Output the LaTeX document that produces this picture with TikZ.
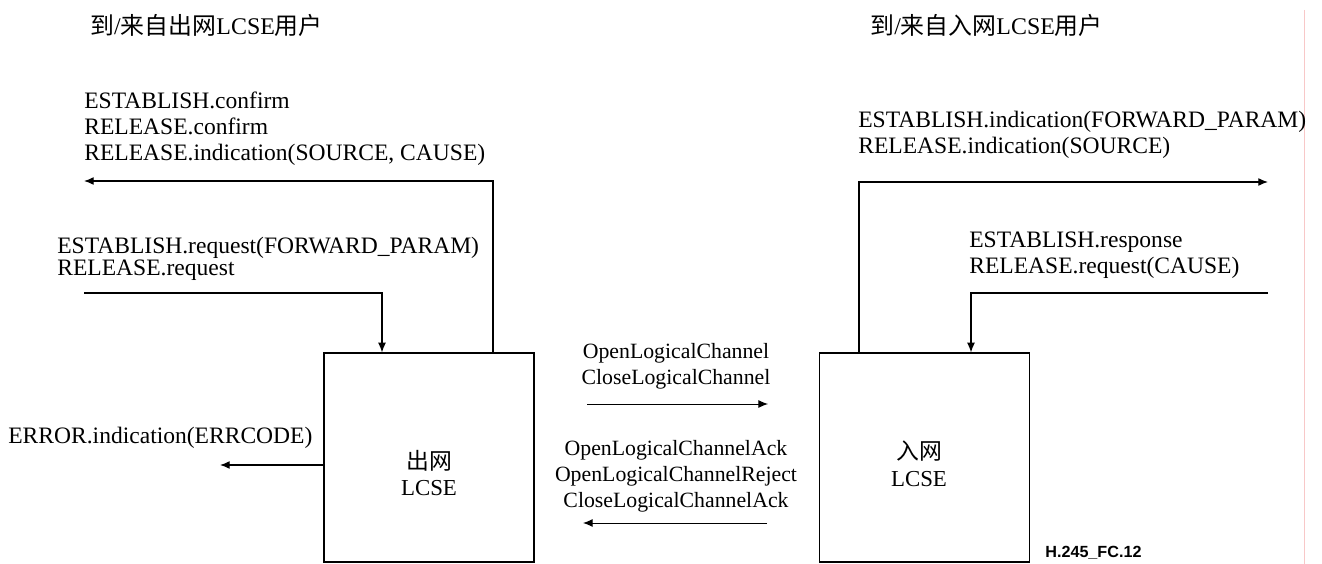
\documentclass[tikz,border=0pt]{standalone}
\usepackage{fontspec}
\usetikzlibrary{arrows.meta}
\setmainfont{Liberation Serif}
\newfontfamily\cjk{Noto Sans CJK SC}
\newfontfamily\tagfont{Liberation Sans}
\newcommand{\zh}[1]{{\cjk #1}}
\tikzset{
	lcse/.style={draw, line width=0.7pt, minimum width=4.2cm, minimum height=4.18cm, inner sep=0pt},
	prim/.style={font=\fontsize{13.4}{14.8}\selectfont, align=left, inner sep=0pt, anchor=west},
	chan/.style={font=\fontsize{12.4}{14.8}\selectfont, align=center, inner sep=0pt},
	flow/.style={->, line width=0.7pt}
}
\begin{document}
\begin{tikzpicture}[>={Latex[length=5.5pt,width=4.5pt]}, x=0.02cm, y=-0.02cm]
	\useasboundingbox (0,0) rectangle (1322,564);
	\draw [color={rgb,255:red,248;green,200;blue,200}, line width=0.5pt](1304,10)--(1304,564);

	% the two entities
	\node[lcse] (outbox) at (429,457.5) {};
	\node[lcse] (inbox) at (924.5,457.5) {};
	\node[chan, font=\fontsize{13}{15.3}\selectfont] (outname) at (429,473) {\zh{出网}\\LCSE};
	\node[chan, font=\fontsize{13}{15.3}\selectfont] (inname) at (919,463.5) {\zh{入网}\\LCSE};

	% users
	\node[prim, font=\fontsize{13.6}{15}\selectfont] (outuser) at (90,25) {\zh{到}/\zh{来自出网}LCSE\zh{用户}};
	\node[prim, font=\fontsize{13.6}{15}\selectfont] (inuser) at (870,25) {\zh{到}/\zh{来自入网}LCSE\zh{用户}};

	\node[prim] (outcfm) at (84,128.5) {ESTABLISH.confirm\\RELEASE.confirm\\RELEASE.indication(SOURCE, CAUSE)};
	\node[prim, font=\fontsize{13.4}{12.4}\selectfont] (outreq) at (57,258.5) {ESTABLISH.request(FORWARD\_PARAM)\\RELEASE.request};
	\node[prim] (outerr) at (8,438) {ERROR.indication(ERRCODE)};
	\node[prim] (inind) at (858,134.5) {ESTABLISH.indication(FORWARD\_PARAM)\\RELEASE.indication(SOURCE)};
	\node[prim] (inrsp) at (969,255) {ESTABLISH.response\\RELEASE.request(CAUSE)};

	% peer messages
	\node[chan] (open) at (676,366.5) {OpenLogicalChannel\\CloseLogicalChannel};
	\node[chan] (ack) at (676,476) {OpenLogicalChannelAck\\OpenLogicalChannelReject\\CloseLogicalChannelAck};
	\node[inner sep=0pt, anchor=west, font=\tagfont\bfseries\fontsize{9.2}{11}\selectfont] (tag) at (1045,553) {H.245\_FC.12};

	\coordinate (ocfmturn) at (493,181);	\coordinate (ocfmend) at (84,181);
	\coordinate (oreqfrom) at (84,293);	\coordinate (oreqturn) at (382,293);
	\coordinate (oerrend) at (220,465);
	\coordinate (iindturn) at (859,182);	\coordinate (iindend) at (1268,182);
	\coordinate (irspfrom) at (1268,293);	\coordinate (irspturn) at (971,293);
	\coordinate (openfrom) at (587,404);	\coordinate (opento) at (768,404);
	\coordinate (ackfrom) at (767,523);	\coordinate (ackto) at (583,523);

	\draw[flow] (outbox.north -| ocfmturn)--(ocfmturn)--(ocfmend);
	\draw[flow] (oreqfrom)--(oreqturn)--(outbox.north -| oreqturn);
	\draw[flow] (outbox.west |- oerrend)--(oerrend);
	\draw[flow] (inbox.north -| iindturn)--(iindturn)--(iindend);
	\draw[flow] (irspfrom)--(irspturn)--(inbox.north -| irspturn);
	\draw[->, line width=0.5pt] (openfrom)--(opento);
	\draw[->, line width=0.5pt] (ackfrom)--(ackto);

\end{tikzpicture}
\end{document}
